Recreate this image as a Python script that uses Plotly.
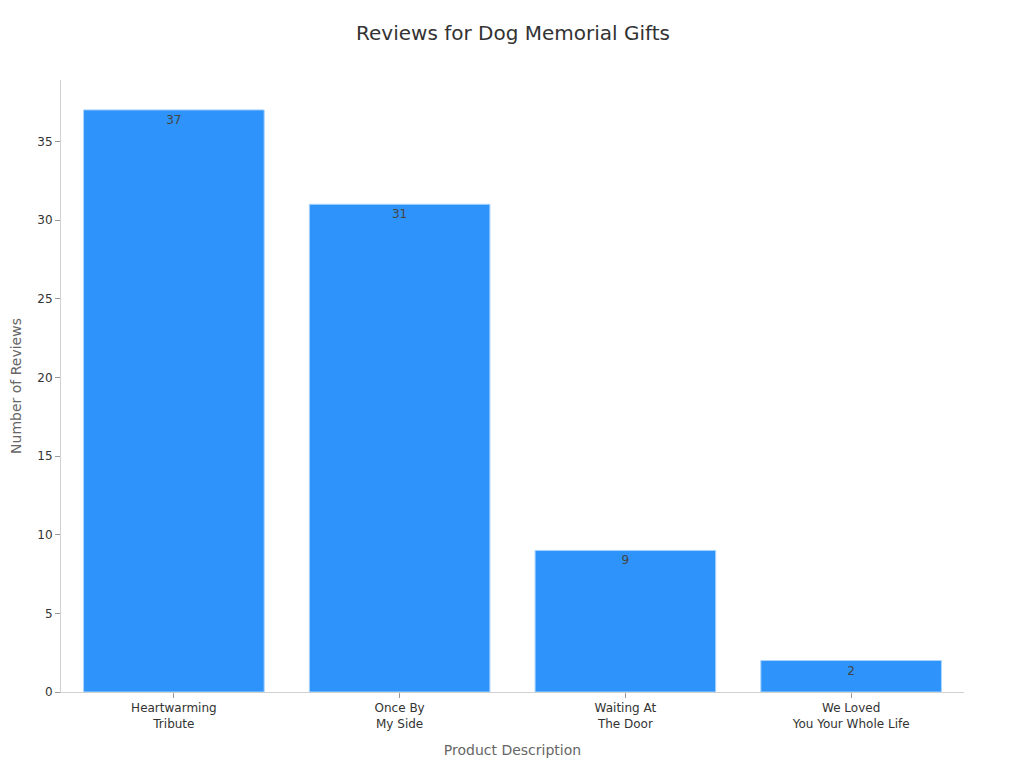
import plotly.graph_objects as go

# Data
products = ["Heartwarming<br>Tribute", "Once By<br>My Side", "Waiting At<br>The Door", "We Loved<br>You Your Whole Life"]
reviews = [37, 31, 9, 2]

fig = go.Figure()

fig.add_trace(go.Bar(x=products,
                     y=reviews,
                     text=reviews,
                     textposition="inside",
                     insidetextanchor="end",
                     textfont=dict(color="#444444", size=12),
                     marker=dict(color="#2E93FA", line=dict(color="#A8D4FF", width=1)),
                     width=0.8))

# Page is offset by the body margin, so margins compensate for it
fig.update_layout(title=dict(text="Reviews for Dog Memorial Gifts", x=505 / 1024, xanchor="center",
                             y=1 - 25 / 768, yanchor="middle",
                             font=dict(size=20, color="#333333")),
                  font=dict(family="DejaVu Sans", color="#333333", size=12),
                  plot_bgcolor="white",
                  paper_bgcolor="white",
                  width=1024, height=768,
                  margin=dict(l=53, r=68, t=72, b=84),
                  showlegend=False,
                  bargap=0.2)

fig.update_xaxes(title=dict(text="Product Description", font=dict(size=14, color="#666666"), standoff=15),
                 showline=True, linecolor="#D0D0D0", linewidth=1,
                 ticks="outside", tickcolor="#999999", ticklen=5,
                 showgrid=False)

fig.update_yaxes(title=dict(text="Number of Reviews", font=dict(size=14, color="#666666"), standoff=23),
                 range=[0, 38.9],
                 dtick=5,
                 automargin=False,
                 showline=True, linecolor="#D0D0D0", linewidth=1,
                 ticks="outside", tickcolor="#999999", ticklen=5,
                 showgrid=False, zeroline=False)

fig.write_html("out.html")
